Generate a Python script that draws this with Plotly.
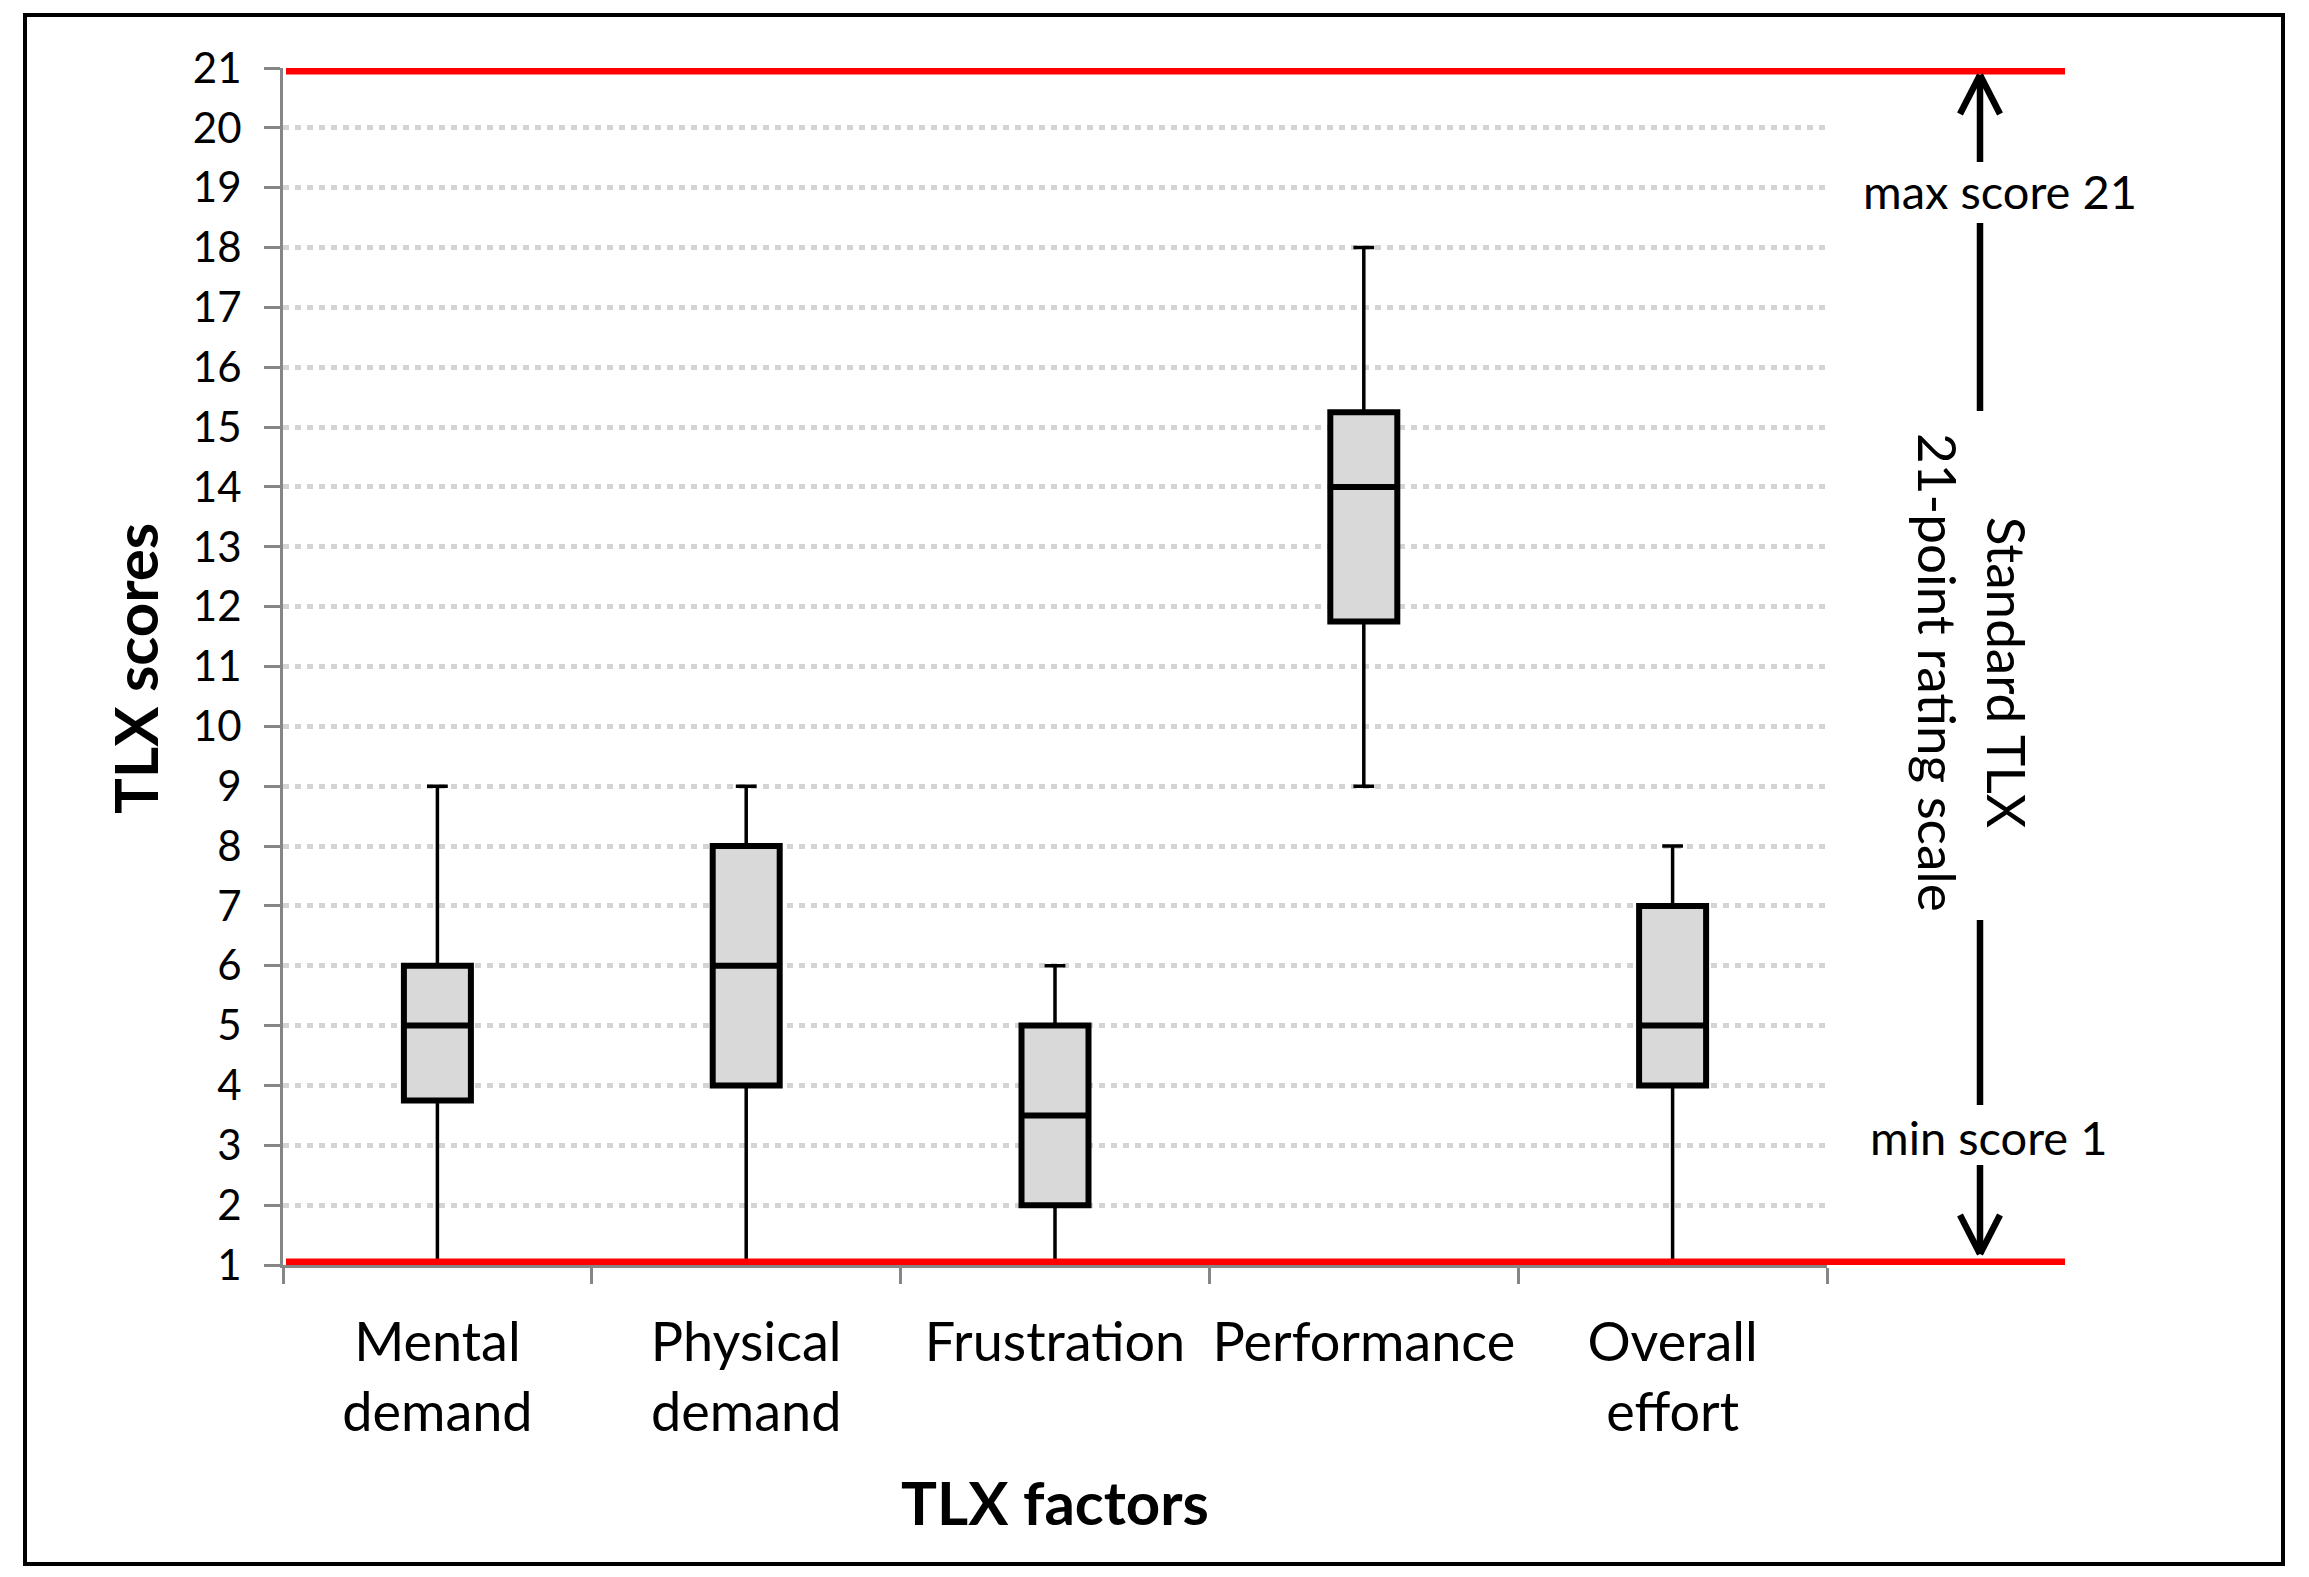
import plotly.graph_objects as go

# ---------------- data ----------------
categories = ["Mental<br>demand", "Physical<br>demand", "Frustration", "Performance", "Overall<br>effort"]
lower_whisker = [1, 1, 1, 9, 1]
q1_values = [3.75, 4, 2, 11.75, 4]
median_values = [5, 6, 3.5, 14, 5]
q3_values = [6, 8, 5, 15.25, 7]
upper_whisker = [9, 9, 6, 18, 8]
scale_min = 1
scale_max = 21
y_ticks = list(range(1, 22))

# ---------------- geometry helpers (reference pixel -> paper) ----------------
W, H = 2309, 1577
OFF = 8  # default page body margin
L, R, T, B = 283, 1827, 68, 1265


def px(x):
    return (x - L) / (R - L)


def py(y):
    return (B - y) / (B - T)


FONT = "Lato"
fig = go.Figure()

# thin layer: whiskers + caps
fig.add_trace(go.Box(
    x=categories, q1=q1_values, median=median_values, q3=q3_values,
    lowerfence=lower_whisker, upperfence=upper_whisker,
    fillcolor="#d9d9d9", line=dict(color="black", width=3.5),
    width=0.217, whiskerwidth=0.31, boxpoints=False, showlegend=False,
    hoverinfo="skip",
))
# thick layer: box outline + median
fig.add_trace(go.Box(
    x=categories, q1=q1_values, median=median_values, q3=q3_values,
    lowerfence=q1_values, upperfence=q3_values,
    fillcolor="#d9d9d9", line=dict(color="black", width=6),
    width=0.217, whiskerwidth=0, boxpoints=False, showlegend=False,
    hoverinfo="skip",
))

shapes = []
# red scale limit lines
for v in (scale_max, scale_min):
    shapes.append(dict(type="line", xref="paper", yref="y", x0=px(286), x1=px(2065),
                       y0=v, y1=v, line=dict(color="#ff0000", width=13), layer="above"))

# outer frame
shapes.append(dict(type="rect", xref="paper", yref="paper", x0=px(25), x1=px(2283),
                   y0=py(1564), y1=py(15), line=dict(color="black", width=4), layer="above"))

ax = 1980
lw = 6.5
def seg(x0, y0, x1, y1):
    shapes.append(dict(type="line", xref="paper", yref="paper", x0=px(x0), x1=px(x1),
                       y0=py(y0), y1=py(y1), line=dict(color="black", width=lw)))

# upper arrow
seg(ax, 75, ax, 162)
for dx in (-20, 20):
    seg(ax, 75, ax + dx, 114)
seg(ax, 223, ax, 411)
# lower arrow
seg(ax, 920, ax, 1105)
seg(ax, 1165, ax, 1254)
for dx in (-20, 20):
    seg(ax, 1254, ax + dx, 1215)

annotations = [
    dict(text="max score 21", xref="paper", yref="paper", x=px(2000), y=py(191),
         showarrow=False, xanchor="center", yanchor="middle",
         font=dict(family=FONT, size=47, color="black")),
    dict(text="min score 1", xref="paper", yref="paper", x=px(1988), y=py(1137),
         showarrow=False, xanchor="center", yanchor="middle",
         font=dict(family=FONT, size=47, color="black")),
    dict(text="Standard TLX<br>21-point rating scale", xref="paper", yref="paper",
         x=px(1973), y=py(673), showarrow=False, textangle=90,
         xanchor="center", yanchor="middle",
         font=dict(family=FONT, size=53, color="black")),
    dict(text="<b>TLX factors</b>", xref="paper", yref="paper", x=0.5, y=py(1502),
         showarrow=False, xanchor="center", yanchor="middle",
         font=dict(family=FONT, size=60, color="black")),
    dict(text="<b>TLX scores</b>", xref="paper", yref="paper", x=px(135), y=py(669),
         showarrow=False, textangle=-90, xanchor="center", yanchor="middle",
         font=dict(family=FONT, size=60, color="black")),
]

FW, FH = W - 2 * OFF, H - 2 * OFF
fig.update_layout(
    width=FW, height=FH,
    margin=dict(l=L - OFF, r=FW - (R - OFF), t=T - OFF, b=FH - (B - OFF), autoexpand=False),
    paper_bgcolor="white", plot_bgcolor="white",
    boxmode="overlay",
    shapes=shapes, annotations=annotations,
    font=dict(family=FONT, color="black"),
    xaxis=dict(type="category", range=[-0.5, 4.5], showgrid=False, zeroline=False,
               showline=True, linecolor="#868686", linewidth=3,
               ticks="outside", ticklen=16, tickwidth=3, tickcolor="#868686",
               tickson="boundaries", ticklabelstandoff=28, tickangle=0,
               tickfont=dict(family=FONT, size=54, color="black")),
    yaxis=dict(range=[scale_min, scale_max], tickmode="array", tickvals=y_ticks,
               showgrid=True, gridcolor="#d4d4d4", gridwidth=5, griddash="6px,6px",
               zeroline=False, showline=True, linecolor="#868686", linewidth=3,
               ticks="outside", ticklen=16, tickwidth=3, tickcolor="#868686",
               ticklabelstandoff=14,
               tickfont=dict(family=FONT, size=42, color="black")),
)

fig.write_html("out.html")
